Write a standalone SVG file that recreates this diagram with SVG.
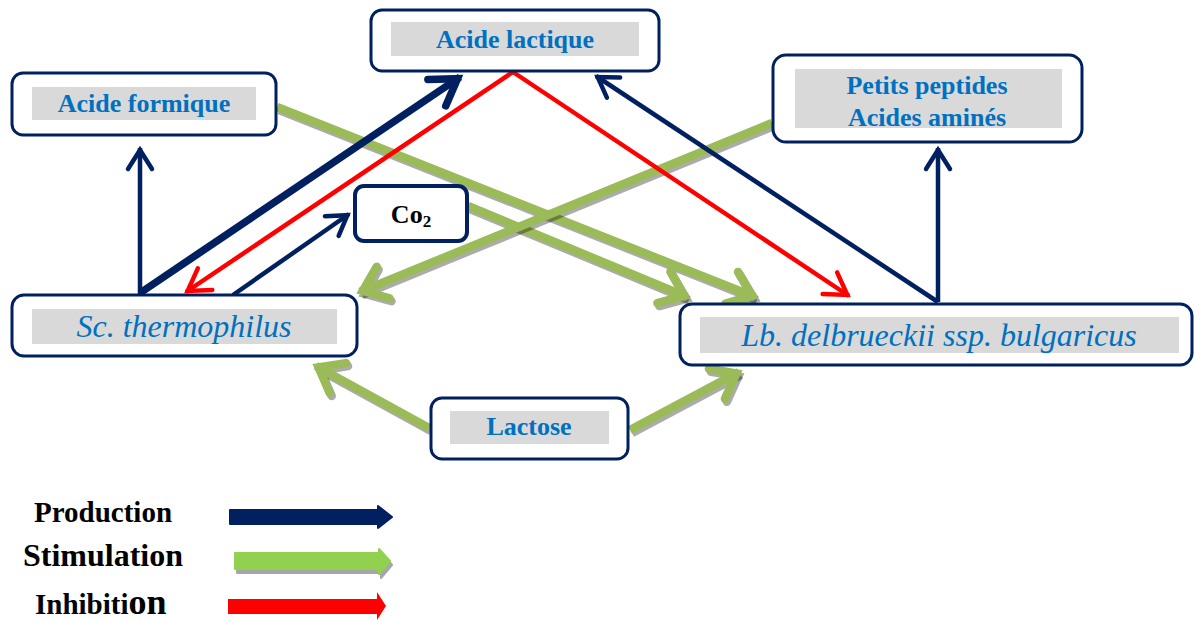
<svg xmlns="http://www.w3.org/2000/svg" width="1194" height="621" viewBox="0 0 1194 621">
  <style>
    .box { fill: #ffffff; stroke: #002060; stroke-width: 3; }
    .band { fill: #D9D9D9; }
    .lbl { font-family: "Liberation Serif", "Times New Roman", serif; font-weight: bold; font-size: 26px; fill: #0070C0; text-anchor: middle; }
    .sp { font-family: "Liberation Serif", "Times New Roman", serif; font-style: italic; font-size: 32px; fill: #0070C0; text-anchor: middle; }
    .leg { font-family: "Liberation Serif", "Times New Roman", serif; font-weight: bold; fill: #000000; }
    .prod { fill: none; stroke: #002060; stroke-width: 4.5; marker-end: url(#hNavy); }
    .prodT { fill: none; stroke: #002060; stroke-width: 7.5; marker-end: url(#hNavyT); }
    .inh { fill: none; stroke: #FF0000; stroke-width: 4.5; marker-end: url(#hRed); }
    .stim { fill: none; stroke: #9BBB59; stroke-width: 8.5; marker-end: url(#hGreen); }
    .shad { fill: none; stroke: #000000; stroke-opacity: 0.33; stroke-width: 8.5; marker-end: url(#hShadow); }
  </style>
  <defs>
    <marker id="hNavy" markerUnits="userSpaceOnUse" markerWidth="40" markerHeight="40" viewBox="-30 -20 40 40" refX="2" refY="0" orient="auto" overflow="visible">
      <path d="M-19,-12 L0,0 L-19,12" fill="none" stroke="#002060" stroke-width="4.5" stroke-linecap="round" stroke-linejoin="miter"/>
    </marker>
    <marker id="hNavyT" markerUnits="userSpaceOnUse" markerWidth="60" markerHeight="60" viewBox="-45 -30 60 60" refX="3" refY="0" orient="auto" overflow="visible">
      <path d="M-25,-16 L0,0 L-25,16" fill="none" stroke="#002060" stroke-width="7.5" stroke-linecap="round" stroke-linejoin="miter"/>
    </marker>
    <marker id="hRed" markerUnits="userSpaceOnUse" markerWidth="40" markerHeight="40" viewBox="-30 -20 40 40" refX="2" refY="0" orient="auto" overflow="visible">
      <path d="M-21,-13 L0,0 L-21,13" fill="none" stroke="#FF0000" stroke-width="4.5" stroke-linecap="round" stroke-linejoin="miter"/>
    </marker>
    <marker id="hGreen" markerUnits="userSpaceOnUse" markerWidth="60" markerHeight="60" viewBox="-45 -30 60 60" refX="3" refY="0" orient="auto" overflow="visible">
      <path d="M-22,-17 L0,0 L-22,17" fill="none" stroke="#9BBB59" stroke-width="8.5" stroke-linecap="round" stroke-linejoin="miter"/>
    </marker>
    <marker id="hShadow" markerUnits="userSpaceOnUse" markerWidth="60" markerHeight="60" viewBox="-45 -30 60 60" refX="3" refY="0" orient="auto" overflow="visible">
      <path d="M-22,-17 L0,0 L-22,17" fill="none" stroke="#000000" stroke-opacity="0.33" stroke-width="8.5" stroke-linecap="round" stroke-linejoin="miter"/>
    </marker>
  </defs>

  <rect width="1194" height="621" fill="#ffffff"/>

  <!-- connectors -->
  <g id="connectors">
    <!-- stimulation (green, with drop shadow) -->
    <g id="stimulation">
      <path class="shad" transform="translate(2,3)" d="M277,107 L755,297"/>
      <path class="stim" d="M277,107 L755,297"/>
      <path class="shad" transform="translate(2,3)" d="M468,206 L687,297"/>
      <path class="stim" d="M468,206 L687,297"/>
      <path class="shad" transform="translate(2,3)" d="M772,123 L360,292"/>
      <path class="stim" d="M772,123 L360,292"/>
      <path class="shad" transform="translate(2,3)" d="M429,428 L316,366"/>
      <path class="stim" d="M429,428 L316,366"/>
      <path class="shad" transform="translate(2,3)" d="M630,430 L739,372"/>
      <path class="stim" d="M630,430 L739,372"/>
    </g>
    <!-- production (navy) -->
    <g id="production">
      <path class="prod" d="M140,295 L140,148"/>
      <path class="prodT" d="M140,293 L460,77"/>
      <path class="prod" d="M233,295 L349,214"/>
      <path class="prod" d="M938,302 L596,76"/>
      <path class="prod" d="M938,302 L938,148"/>
    </g>
    <!-- inhibition (red) -->
    <g id="inhibition">
      <path class="inh" d="M513,72 L186,292"/>
      <path class="inh" d="M513,72 L849,296"/>
    </g>
  </g>

  <!-- nodes -->
  <g id="acide-lactique">
    <rect class="box" x="371" y="10" width="288" height="61" rx="11"/>
    <rect class="band" x="391" y="22" width="248" height="34"/>
    <text class="lbl" x="515" y="48">Acide lactique</text>
  </g>
  <g id="acide-formique">
    <rect class="box" x="12" y="73" width="264" height="62" rx="11"/>
    <rect class="band" x="32" y="87" width="224" height="33"/>
    <text class="lbl" x="144" y="112">Acide formique</text>
  </g>
  <g id="petits-peptides">
    <rect class="box" x="773" y="55" width="309" height="87" rx="13"/>
    <rect class="band" x="795" y="69" width="267" height="59"/>
    <text class="lbl" x="927" y="94">Petits peptides</text>
    <text class="lbl" x="927" y="126">Acides aminés</text>
  </g>
  <g id="co2">
    <rect x="355" y="186" width="112" height="55" rx="9" fill="#ffffff" stroke="#002060" stroke-width="4"/>
    <text class="leg" x="411" y="223" font-size="26" text-anchor="middle">Co<tspan font-size="17" dy="4">2</tspan></text>
  </g>
  <g id="sc-thermophilus">
    <rect class="box" x="12" y="295" width="345" height="61" rx="12"/>
    <rect class="band" x="32" y="309" width="305" height="35"/>
    <text class="sp" x="184" y="337">Sc. thermophilus</text>
  </g>
  <g id="lb-delbrueckii">
    <rect class="box" x="680" y="304" width="512" height="61" rx="12"/>
    <rect class="band" x="700" y="317" width="479" height="36"/>
    <text class="sp" x="939" y="346">Lb. delbrueckii ssp. bulgaricus</text>
  </g>
  <g id="lactose">
    <rect class="box" x="431" y="398" width="197" height="61" rx="11"/>
    <rect class="band" x="450" y="411" width="159" height="33"/>
    <text class="lbl" x="529" y="435">Lactose</text>
  </g>

  <!-- legend -->
  <g id="legend">
    <text class="leg" x="34" y="522" font-size="29">Production</text>
    <path d="M230,510 L378,510 L378,506 L392,517 L378,528 L378,524 L230,524 Z" fill="#002060" stroke="#002060" stroke-width="2" stroke-linejoin="round"/>

    <text class="leg" x="23" y="566" font-size="32">Stimulation</text>
    <path d="M237,556 L381,556 L381,552 L392,565 L381,578 L381,573 L237,573 Z" fill="#A6A6A6" stroke="#A6A6A6" stroke-width="2" stroke-linejoin="round"/>
    <path d="M235,553 L379,553 L379,549 L390,561 L379,574 L379,569 L235,569 Z" fill="#92D050" stroke="#92D050" stroke-width="2" stroke-linejoin="round"/>

    <text class="leg" x="35" y="614" font-size="29">Inhibiti<tspan font-size="36">on</tspan></text>
    <path d="M228,599 L377,599 L377,592 L386,606 L377,620 L377,614 L228,614 Z" fill="#FF0000"/>
  </g>
</svg>
